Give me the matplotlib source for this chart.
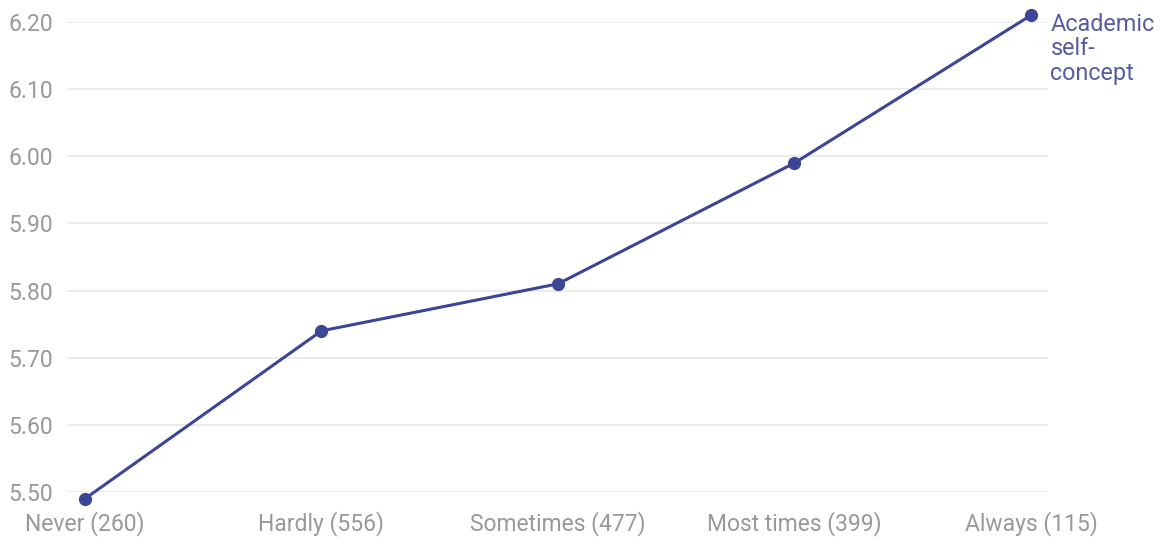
import numpy as np
from matplotlib import pyplot as plt

# Academic self-concept by frequency group
categories = ["Never (260)", "Hardly (556)", "Sometimes (477)", "Most times (399)", "Always (115)"]
values = [5.49, 5.74, 5.81, 5.99, 6.21]
series_name = "Academic\nself-\nconcept"
yticks = [5.50, 5.60, 5.70, 5.80, 5.90, 6.00, 6.10, 6.20]

plt.rcParams['font.family'] = ['Roboto', 'DejaVu Sans']

W, H = 1160, 539
fig = plt.figure(figsize=(W / 100, H / 100), dpi=100)
ax = fig.add_axes([67 / W, 47 / H, (1048 - 67) / W, (517 - 47) / H])

line_col = '#3c4596'
x = np.arange(len(categories))
ax.plot(x, values, color=line_col, lw=2.2, marker='o', ms=8.5, clip_on=False, zorder=3)

ax.set_xlim(-0.076, 4.072)
ax.set_ylim(5.50, 6.20)
ax.set_yticks(yticks)
ax.set_yticklabels([f"{v:.2f}" for v in yticks])
ax.set_xticks(x)
ax.set_xticklabels(categories)

ax.grid(axis='y', color='#e8e8e8', lw=1.2)
ax.set_axisbelow(True)
for s in ax.spines.values():
    s.set_visible(False)
ax.tick_params(length=0, labelsize=16.5, labelcolor='#999999')
ax.tick_params(axis='y', pad=10)
ax.tick_params(axis='x', pad=14)

# series label beside the last point
ax.annotate(series_name, xy=(x[-1], values[-1]), xytext=(14, 2), textcoords='offset points',
            ha='left', va='top', fontsize=16.8, color='#565ca2', linespacing=1.1,
            annotation_clip=False)

fig.savefig('out.png', dpi=100, facecolor='white')
